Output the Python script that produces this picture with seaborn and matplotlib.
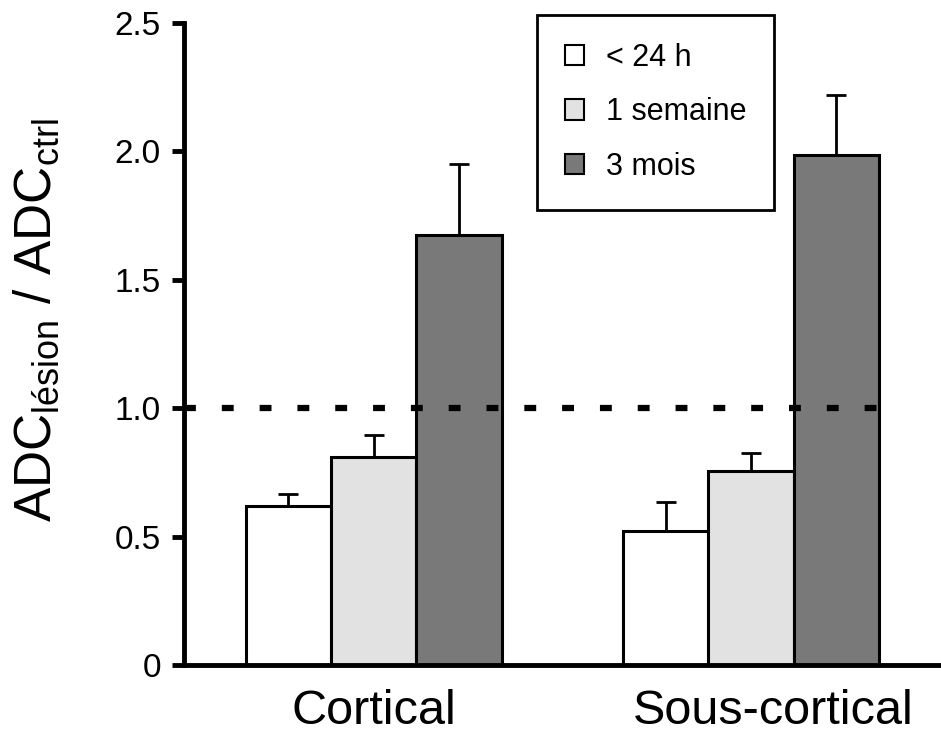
import numpy as np
import pandas as pd
import matplotlib
matplotlib.use("Agg")
import matplotlib.pyplot as plt
import matplotlib.transforms as mtransforms
import seaborn as sns
from matplotlib.patches import Patch

# data
regions = ["Cortical", "Sous-cortical"]
times = ["< 24 h", "1 semaine", "3 mois"]
mean_24h = [0.62, 0.52]
mean_1sem = [0.81, 0.755]
mean_3mois = [1.675, 1.985]
err_24h = [0.045, 0.115]
err_1sem = [0.085, 0.07]
err_3mois = [0.275, 0.235]
ytick_vals = [0, 0.5, 1.0, 1.5, 2.0, 2.5]
ytick_labels = ["0", "0.5", "1.0", "1.5", "2.0", "2.5"]
colors = ["#ffffff", "#e2e2e2", "#797979"]

means = [mean_24h, mean_1sem, mean_3mois]
errs = [err_24h, err_1sem, err_3mois]
df = pd.DataFrame({
    "region": regions * 3,
    "time": [t for t in times for _ in regions],
    "value": [v for m in means for v in m],
})

sns.set_style("ticks")
plt.rcParams["font.family"] = ["Liberation Sans", "DejaVu Sans"]
plt.rcParams["mathtext.fontset"] = "custom"
plt.rcParams["mathtext.rm"] = "Liberation Sans"
for k in ["text.color", "axes.labelcolor", "xtick.color", "ytick.color", "axes.edgecolor"]:
    plt.rcParams[k] = "black"

fig = plt.figure(figsize=(9.41, 7.46), dpi=100)
ax = fig.add_axes([184 / 941, 81 / 746, 1 - 184 / 941, (665 - 23) / 746])

sns.barplot(data=df, x="region", y="value", hue="time", hue_order=times,
            palette=colors, edgecolor="black", linewidth=2.2, width=0.678,
            gap=0, errorbar=None, legend=False, ax=ax)

# upper error bars only
for cont, err in zip(ax.containers, errs):
    xs = [b.get_x() + b.get_width() / 2 for b in cont]
    hs = [b.get_height() for b in cont]
    ax.errorbar(xs, hs, yerr=[np.zeros(len(err)), err], fmt="none",
                ecolor="black", elinewidth=2, capsize=7.2, capthick=2, zorder=1)

ax.set_xlim(-0.502, 1.503)
ax.set_ylim(0, 2.5)

# dashed reference line at 1.0
last_right = max(b.get_x() + b.get_width() for b in ax.patches)
ax.hlines(1.0, ax.get_xlim()[0], last_right, colors="black",
          linewidth=4.5, linestyles=(0, (1.9, 4.15)), zorder=5)

ax.set_yticks(ytick_vals)
ax.set_yticklabels(ytick_labels)
ax.tick_params(axis="y", labelsize=24, length=8.6, width=3.5, pad=8, direction="out")
ax.tick_params(axis="x", labelsize=35, length=0, pad=17)
ax.set_xlabel("")
ax.set_ylabel(r"ADC$_{\mathregular{lésion}}$ / ADC$_{\mathregular{ctrl}}$", fontsize=37)
ax.yaxis.set_label_coords(62 / 941, 1 - 320 / 746, transform=fig.transFigure)

# the second group label sits a bit right of its group centre
offsets = [0, 16]
for lab, dx in zip(ax.get_xticklabels(), offsets):
    lab.set_transform(lab.get_transform() + mtransforms.ScaledTranslation(dx / 72, 0, fig.dpi_scale_trans))

sns.despine(ax=ax)
ax.spines["left"].set_linewidth(3.5)
ax.spines["bottom"].set_linewidth(3.5)

handles = [Patch(facecolor=c, edgecolor="black", linewidth=1.5) for c in colors]
leg = ax.legend(handles, times, loc="upper left",
                bbox_to_anchor=(537 / 941, 1 - 15 / 746), bbox_transform=fig.transFigure,
                borderaxespad=0, fontsize=22, frameon=True, fancybox=False,
                handlelength=0.65, handleheight=0.65, handletextpad=0.7,
                labelspacing=0.81, borderpad=0.9)
leg.get_frame().set_edgecolor("black")
leg.get_frame().set_linewidth(2)
leg.get_frame().set_alpha(1)

fig.savefig("out.png", dpi=100)
